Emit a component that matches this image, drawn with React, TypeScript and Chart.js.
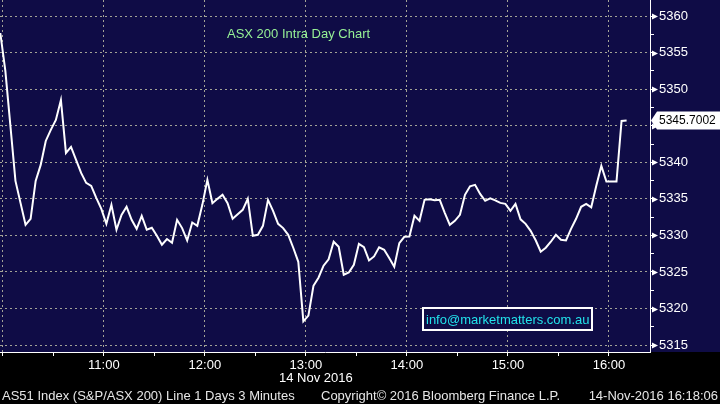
import React, { useEffect, useRef } from 'react';
import { Chart, registerables } from 'chart.js';

Chart.register(...registerables);

// ---- data ----
const FIRST_BAR_MINUTE = 598.5; // minutes after midnight of first 3-minute bar
const BAR_MINUTES = 3;
const prices: number[] = [
  5357.68, 5352.49, 5344.97, 5337.46, 5334.45, 5331.45, 5332.27, 5337.46, 5339.64, 5342.92,
  5344.43, 5345.79, 5348.52, 5341.28, 5342.10, 5340.33, 5338.55, 5337.19, 5336.78, 5335.14,
  5333.63, 5331.58, 5334.18, 5330.77, 5332.81, 5333.91, 5332.13, 5330.90, 5332.68, 5330.77,
  5331.04, 5329.95, 5328.72, 5329.50, 5328.99, 5332.13, 5331.00, 5329.30, 5331.76, 5331.31,
  5334.18, 5337.60, 5334.41, 5335.00, 5335.55, 5334.41, 5332.27, 5332.88, 5333.50, 5335.00,
  5329.95, 5330.08, 5331.31, 5334.86, 5333.36, 5331.58, 5331.00, 5330.08, 5328.31, 5326.39,
  5318.24, 5319.02, 5323.11, 5324.21, 5325.85, 5326.73, 5329.13, 5328.44, 5324.62, 5324.93,
  5325.98, 5328.85, 5328.40, 5326.57, 5327.12, 5328.37, 5328.03, 5326.90, 5325.71, 5328.95,
  5329.81, 5329.85, 5332.68, 5331.99, 5334.86, 5334.93, 5334.80, 5334.86, 5333.09, 5331.45,
  5331.99, 5332.81, 5335.55, 5336.71, 5336.91, 5335.68, 5334.73, 5335.07, 5334.80, 5334.45,
  5334.32, 5333.36, 5334.32, 5332.20, 5331.58, 5330.63, 5329.33, 5327.76, 5328.31, 5329.13,
  5330.08, 5329.40, 5329.30, 5330.90, 5332.27, 5333.91, 5334.32, 5333.84, 5336.78, 5339.51,
  5337.36, 5337.36, 5337.36, 5345.65, 5345.7002,
];
const lastPriceLabel = '5345.7002';
const yTickValues: number[] = [5315, 5317.5, 5320, 5322.5, 5325, 5327.5, 5330, 5332.5, 5335, 5337.5, 5340, 5342.5, 5345, 5347.5, 5350, 5352.5, 5355, 5357.5, 5360];
const xTickMinutes: number[] = [600, 630, 660, 690, 720, 750, 780, 810, 840, 870, 900, 930, 960];
const X_MIN = 598.32;
const X_MAX = 984.4;
const Y_MIN = 5314.05;
const Y_MAX = 5362.2;

const titleText = 'ASX 200 Intra Day Chart';
const dateText = '14 Nov 2016';
const infoText = 'info@marketmatters.com.au';
const footerLeft = 'AS51 Index (S&P/ASX 200) Line 1 Days 3 Minutes';
const footerMid = 'Copyright\u00A9 2016 Bloomberg Finance L.P.';
const footerRight = '14-Nov-2016 16:18:06';

// ---- styles ----
const NAVY = '#0f0c46';
const GRID = '#a3a396';
const FONT = "'Liberation Sans', Arial, sans-serif";

const pad2 = (n: number) => (n < 10 ? '0' + n : '' + n);

const zeroPadding = (s: any) => {
  s.paddingTop = 0;
  s.paddingBottom = 0;
  s.paddingLeft = 0;
  s.paddingRight = 0;
};

const decorPlugin = {
  id: 'bbgDecor',
  beforeDraw(chart: any) {
    const { ctx, width, height, chartArea } = chart;
    ctx.save();
    ctx.fillStyle = NAVY;
    ctx.fillRect(0, 0, width, chartArea.bottom);
    ctx.fillStyle = '#000000';
    ctx.fillRect(0, chartArea.bottom, width, height - chartArea.bottom);
    ctx.restore();
  },
  afterDraw(chart: any) {
    const { ctx, chartArea, width } = chart;
    const y = chart.scales.y;
    const x = chart.scales.x;
    ctx.save();
    // major tick arrows on price axis
    ctx.fillStyle = '#ffffff';
    yTickValues.forEach((v) => {
      if (Math.abs(v % 5) > 0.01) return;
      const py = Math.round(y.getPixelForValue(v)) + 0.5;
      ctx.beginPath();
      ctx.moveTo(chartArea.right + 2, py - 3);
      ctx.lineTo(chartArea.right + 8, py);
      ctx.lineTo(chartArea.right + 2, py + 3);
      ctx.closePath();
      ctx.fill();
    });

    // title
    ctx.font = `13px ${FONT}`;
    ctx.fillStyle = '#96f096';
    ctx.textBaseline = 'middle';
    ctx.textAlign = 'left';
    ctx.fillText(titleText, 227, 34);

    // info box
    const bx = 423, by = 308, bw = 169, bh = 22;
    ctx.fillStyle = NAVY;
    ctx.fillRect(bx, by, bw, bh);
    ctx.strokeStyle = '#ffffff';
    ctx.lineWidth = 2;
    ctx.strokeRect(bx, by, bw, bh);
    ctx.fillStyle = '#22e2ea';
    ctx.font = `13px ${FONT}`;
    ctx.fillText(infoText, bx + 3, by + bh / 2 + 1);

    // last price label
    const lp = y.getPixelForValue(prices[prices.length - 1]);
    const lx = chartArea.right + 1;
    ctx.fillStyle = '#ffffff';
    ctx.beginPath();
    ctx.moveTo(lx, lp);
    ctx.lineTo(lx + 6, lp - 9);
    ctx.lineTo(width, lp - 9);
    ctx.lineTo(width, lp + 9);
    ctx.lineTo(lx + 6, lp + 9);
    ctx.closePath();
    ctx.fill();
    ctx.fillStyle = '#000000';
    ctx.font = `12px ${FONT}`;
    ctx.fillText(lastPriceLabel, lx + 8, lp + 0.5);

    // date under 13:00
    ctx.font = `13px ${FONT}`;
    ctx.fillStyle = '#ffffff';
    ctx.textAlign = 'center';
    ctx.fillText(dateText, x.getPixelForValue(780) + 10, 378);

    // footer
    ctx.font = `13px ${FONT}`;
    ctx.fillStyle = '#e6e6e6';
    ctx.textAlign = 'left';
    ctx.fillText(footerLeft, 2, 396);
    ctx.fillText(footerMid, 321, 396);
    ctx.textAlign = 'right';
    ctx.fillText(footerRight, 718, 396);
    ctx.restore();
  },
};

export default function App() {
  const ref = useRef<HTMLCanvasElement>(null);
  useEffect(() => {
    if (!ref.current) return;
    const points = prices.map((p, i) => ({ x: FIRST_BAR_MINUTE + BAR_MINUTES * i, y: p }));
    const chart = new Chart(ref.current, {
      type: 'line',
      data: {
        datasets: [
          {
            data: points,
            borderColor: '#ffffff',
            borderWidth: 2,
            pointRadius: 0,
            tension: 0,
            fill: false,
          },
        ],
      },
      options: {
        animation: false,
        responsive: false,
        devicePixelRatio: 1,
        layout: { padding: 0 },
        plugins: { legend: { display: false }, tooltip: { enabled: false } },
        scales: {
          x: {
            type: 'linear',
            position: 'bottom',
            min: X_MIN,
            max: X_MAX,
            afterBuildTicks: (s: any) => {
              s.ticks = xTickMinutes.map((v) => ({ value: v }));
            },
            afterFit: (s: any) => {
              s.height = 52;
              zeroPadding(s);
            },
            grid: {
              color: (c: any) => (c.tick && c.tick.value % 60 === 0 ? GRID : 'rgba(0,0,0,0)'),
              lineWidth: 1,
              tickLength: 4,
              tickColor: '#ffffff',
              tickWidth: 1,
              tickBorderDash: [],
            },
            border: { display: true, color: '#ffffff', width: 1, dash: [2, 3] },
            ticks: {
              autoSkip: false,
              maxRotation: 0,
              padding: 2,
              color: '#ffffff',
              font: { family: FONT, size: 13 },
              callback: (v: any) => {
                const m = Number(v);
                if (m % 60 !== 0 || m === 600) return '';
                return pad2(Math.floor(m / 60)) + ':' + pad2(m % 60);
              },
            },
          },
          y: {
            type: 'linear',
            position: 'right',
            min: Y_MIN,
            max: Y_MAX,
            afterBuildTicks: (s: any) => {
              s.ticks = yTickValues.map((v) => ({ value: v }));
            },
            afterFit: (s: any) => {
              s.width = 70;
              zeroPadding(s);
            },
            grid: {
              color: (c: any) => (c.tick && Math.abs(c.tick.value % 5) < 0.01 ? GRID : 'rgba(0,0,0,0)'),
              lineWidth: 1,
              tickLength: 4,
              tickColor: '#ffffff',
              tickWidth: 1,
              tickBorderDash: [],
            },
            border: { display: true, color: '#ffffff', width: 1, dash: [2, 3] },
            ticks: {
              autoSkip: false,
              padding: 5,
              color: '#ffffff',
              font: { family: FONT, size: 13 },
              callback: (v: any) => (Math.abs(Number(v) % 5) < 0.01 ? String(v) : ''),
            },
          },
        },
      },
      plugins: [decorPlugin],
    } as any);
    return () => chart.destroy();
  }, []);

  return (
    <div style={{ position: 'fixed', left: 0, top: 0, width: 720, height: 404, background: '#000' }}>
      <canvas ref={ref} width={720} height={404} style={{ display: 'block', width: 720, height: 404 }} />
    </div>
  );
}
